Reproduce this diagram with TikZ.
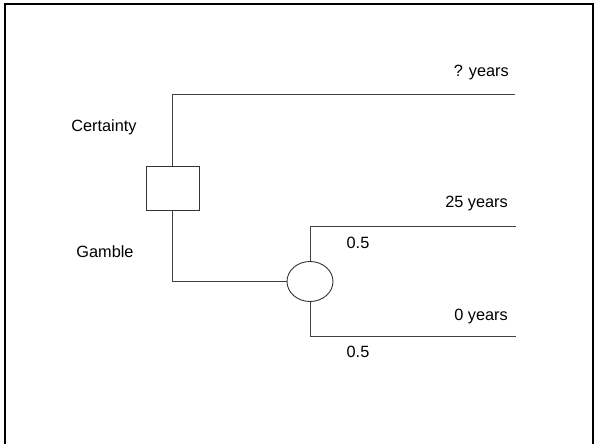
\documentclass[tikz,border=0pt]{standalone}
\usepackage{fontspec}
\setmainfont{Liberation Sans}
\usetikzlibrary{shapes.geometric}
\begin{document}
\begin{tikzpicture}[x=1bp, y=-1bp,
  branch/.style={draw=black!75, line width=1bp},
  decision/.style={draw=black!80, line width=0.9bp, rectangle, minimum width=53bp, minimum height=44bp, inner sep=0pt},
  chance/.style={draw=black!80, line width=0.9bp, ellipse, minimum width=46bp, minimum height=40bp, inner sep=0pt},
  lbl/.style={inner sep=0pt, font=\fontsize{16.3bp}{19bp}\selectfont},
  endlbl/.style={lbl, anchor=east}]
  \useasboundingbox (0,0) rectangle (594,444);
  % outer frame
  \draw[line width=2bp, line cap=rect] (5,446) -- (5,4) -- (593,4) -- (593,446);

  % decision and chance nodes
  \node[decision] (choice) at (172.5,188) {};
  \node[chance] (lottery) at (310,281.5) {};

  % branch end points
  \coordinate (sure) at (515,95);
  \coordinate (win) at (516,227);
  \coordinate (lose) at (516,336);

  % branches
  \draw[branch] (choice.north) |- (sure);
  \draw[branch] (choice.south) |- (lottery.west);
  \draw[branch] (lottery.north) |- (win);
  \draw[branch] (lottery.south) |- (lose);

  % labels
  \node[lbl] (certainty) at (104,127) {Certainty};
  \node[lbl] (gamble) at (105,252) {Gamble};
  \node[endlbl] (qyears) at (509,73) {? years};
  \node[endlbl] (yrs25) at (508,204) {25 years};
  \node[endlbl] (yrs0) at (508,316) {0 years};
  \node[lbl] (pwin) at (358,243) {0.5};
  \node[lbl] (plose) at (358,352) {0.5};
\end{tikzpicture}
\end{document}
